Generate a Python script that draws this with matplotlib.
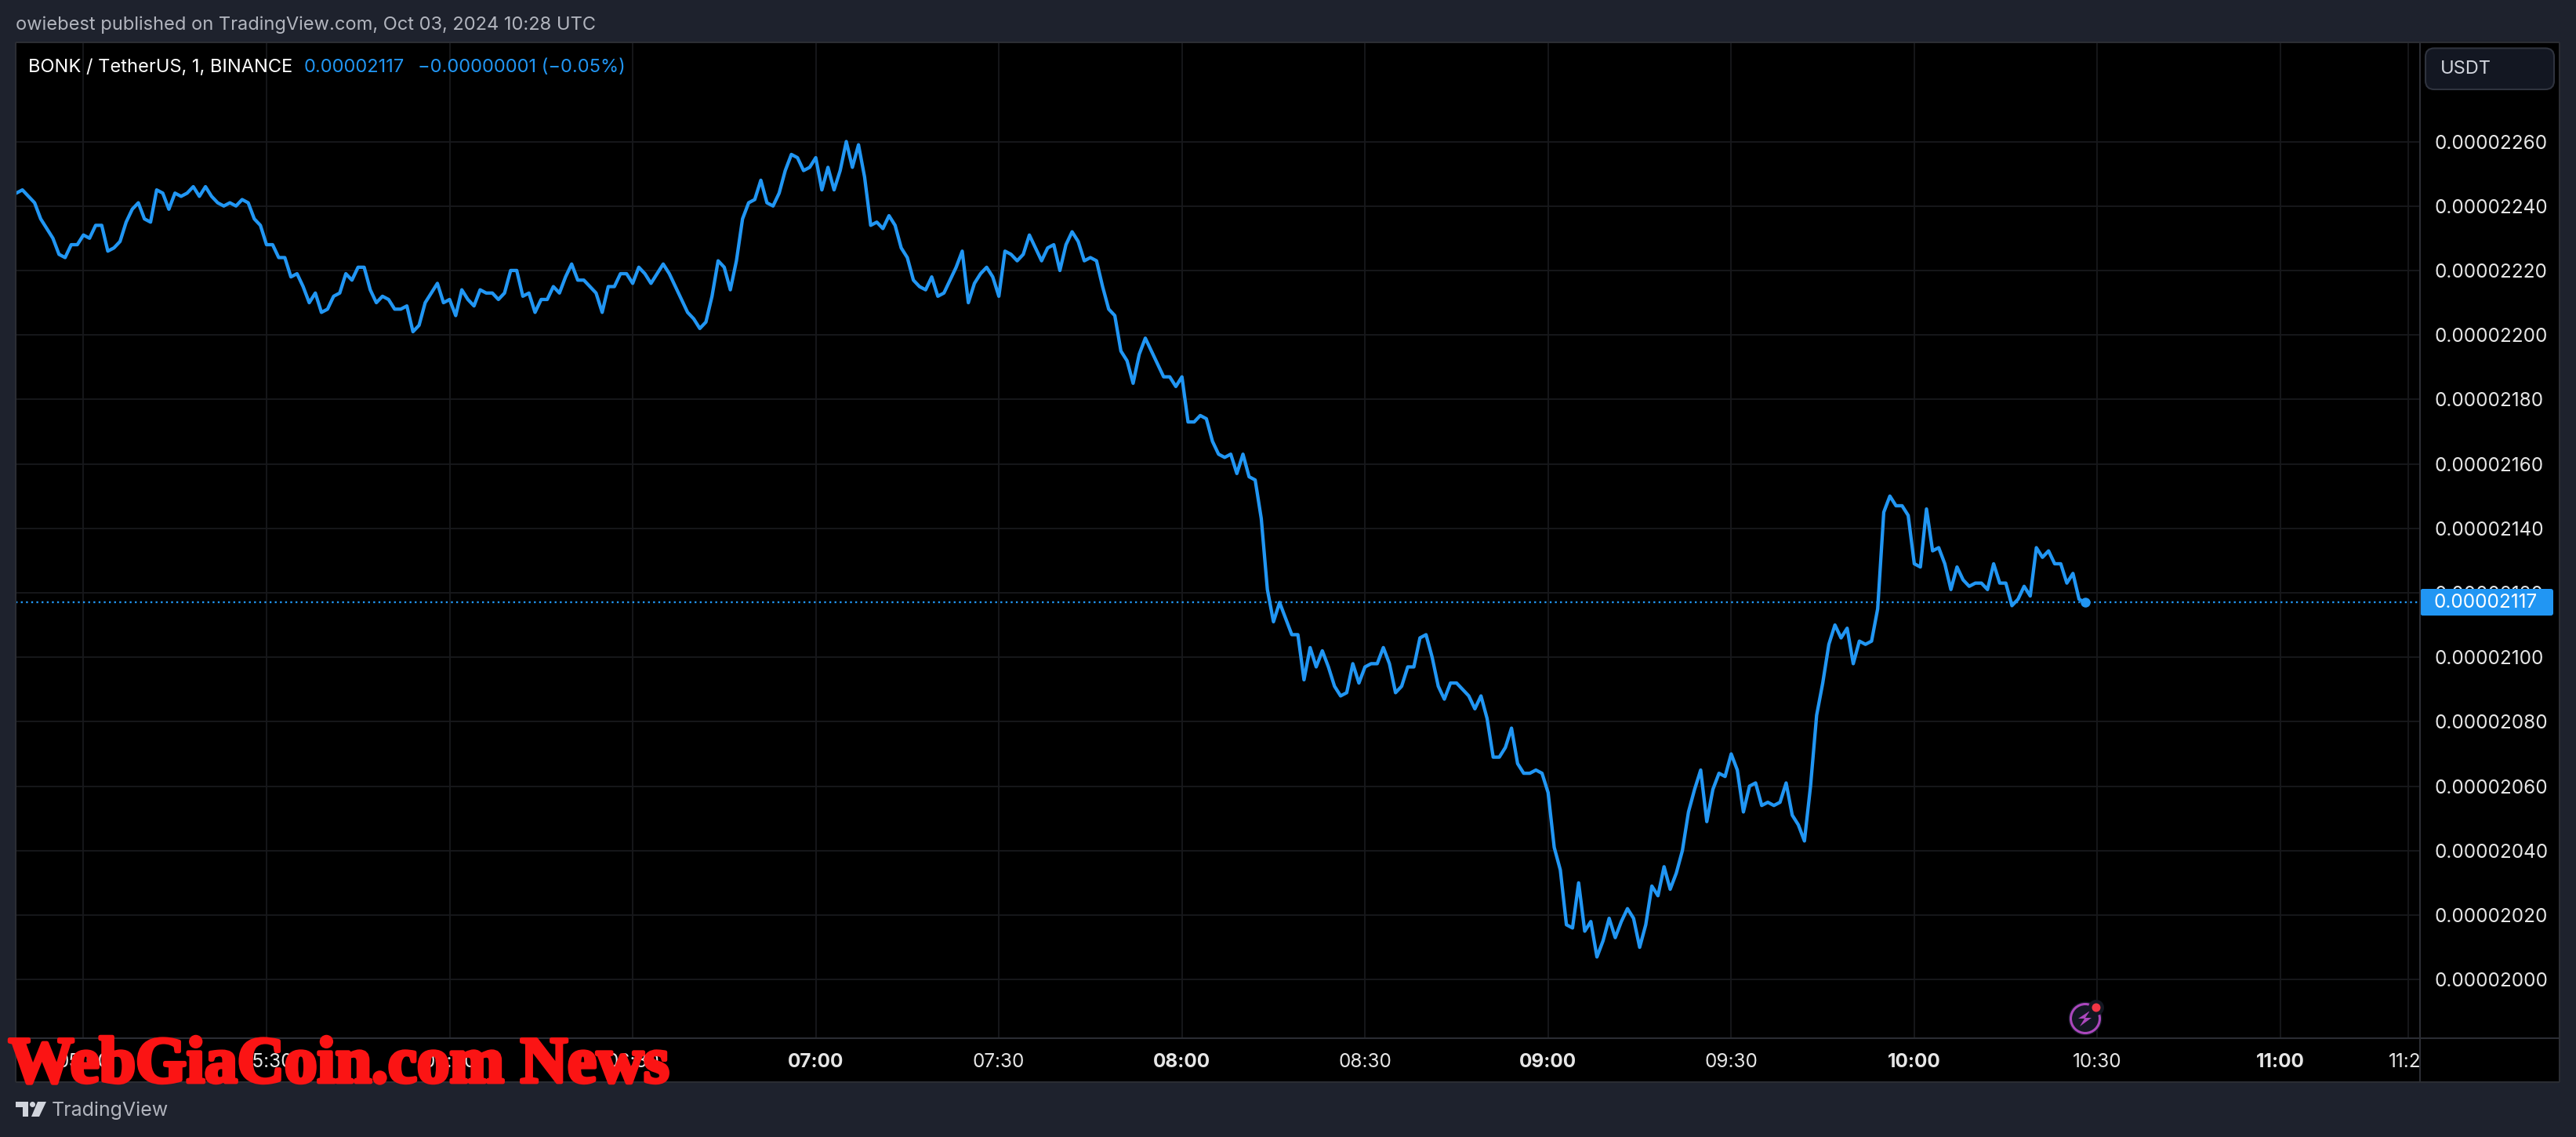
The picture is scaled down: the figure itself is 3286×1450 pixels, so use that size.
#/usr/bin/env python

import matplotlib
matplotlib.use('Agg')
import matplotlib.pyplot as plt
import matplotlib.patheffects as pe
from matplotlib.patches import Circle, FancyBboxPatch, Polygon, Rectangle
from matplotlib.transforms import Bbox

plt.rcParams['font.family'] = ['Inter', 'DejaVu Sans']

# closes in units of 1e-8 USDT, one per minute from 04:49
first_minute = 4 * 60 + 49
closes = [
    2244, 2245, 2243, 2241, 2236, 2233, 2230, 2225, 2224, 2228, 2228, 2231, 2230, 2234, 2234, 2226,
    2227, 2229, 2235, 2239, 2241, 2236, 2235, 2245, 2244, 2239, 2244, 2243, 2244, 2246, 2243, 2246,
    2243, 2241, 2240, 2241, 2240, 2242, 2241, 2236, 2234, 2228, 2228, 2224, 2224, 2218, 2219, 2215,
    2210, 2213, 2207, 2208, 2212, 2213, 2219, 2217, 2221, 2221, 2214, 2210, 2212, 2211, 2208, 2208,
    2209, 2201, 2203, 2210, 2213, 2216, 2210, 2211, 2206, 2214, 2211, 2209, 2214, 2213, 2213, 2211,
    2213, 2220, 2220, 2212, 2213, 2207, 2211, 2211, 2215, 2213, 2218, 2222, 2217, 2217, 2215, 2213,
    2207, 2215, 2215, 2219, 2219, 2216, 2221, 2219, 2216, 2219, 2222, 2219, 2215, 2211, 2207, 2205,
    2202, 2204, 2212, 2223, 2221, 2214, 2223, 2236, 2241, 2242, 2248, 2241, 2240, 2244, 2251, 2256,
    2255, 2251, 2252, 2255, 2245, 2252, 2245, 2251, 2260, 2252, 2259, 2249, 2234, 2235, 2233, 2237,
    2234, 2227, 2224, 2217, 2215, 2214, 2218, 2212, 2213, 2217, 2221, 2226, 2210, 2216, 2219, 2221,
    2218, 2212, 2226, 2225, 2223, 2225, 2231, 2227, 2223, 2227, 2228, 2220, 2228, 2232, 2229, 2223,
    2224, 2223, 2215, 2208, 2206, 2195, 2192, 2185, 2194, 2199, 2195, 2191, 2187, 2187, 2184, 2187,
    2173, 2173, 2175, 2174, 2167, 2163, 2162, 2163, 2157, 2163, 2156, 2155, 2143, 2121, 2111, 2117,
    2112, 2107, 2107, 2093, 2103, 2097, 2102, 2097, 2091, 2088, 2089, 2098, 2092, 2097, 2098, 2098,
    2103, 2098, 2089, 2091, 2097, 2097, 2106, 2107, 2100, 2091, 2087, 2092, 2092, 2090, 2088, 2084,
    2088, 2081, 2069, 2069, 2072, 2078, 2067, 2064, 2064, 2065, 2064, 2058, 2041, 2034, 2017, 2016,
    2030, 2015, 2018, 2007, 2012, 2019, 2013, 2018, 2022, 2019, 2010, 2017, 2029, 2026, 2035, 2028,
    2033, 2040, 2052, 2059, 2065, 2049, 2059, 2064, 2063, 2070, 2065, 2052, 2060, 2061, 2054, 2055,
    2054, 2055, 2061, 2051, 2048, 2043, 2060, 2082, 2092, 2104, 2110, 2106, 2109, 2098, 2105, 2104,
    2105, 2115, 2145, 2150, 2147, 2147, 2144, 2129, 2128, 2146, 2133, 2134, 2129, 2121, 2128, 2124,
    2122, 2123, 2123, 2121, 2129, 2123, 2123, 2116, 2118, 2122, 2119, 2134, 2131, 2133, 2129, 2129,
    2123, 2126, 2118, 2117,
]
price_ticks = [2000, 2020, 2040, 2060, 2080, 2100, 2120, 2140, 2160, 2180, 2200, 2220, 2240, 2260]
time_ticks = [300, 330, 360, 390, 420, 450, 480, 510, 540, 570, 600, 630, 660, 681]
time_labels = ['05:00', '05:30', '06:00', '06:30', '07:00', '07:30', '08:00',
               '08:30', '09:00', '09:30', '10:00', '10:30', '11:00', '11:21']
bold_labels = ['07:00', '08:00', '09:00', '10:00', '11:00']
last_price = 2117

W, H = 3286, 1450
PANEL = '#1e222d'
BLUE = '#2196f3'
GRID = '#18191c'
TEXT = '#e6e6e6'
MUTED = '#b2b5be'

# plot area in pixels
left, right, top, bottom = 20, 3086.5, 53.5, 1324

fig = plt.figure(figsize=(W / 100, H / 100), dpi=100, facecolor=PANEL)

# black pane behind the plot and both scales
fig.add_artist(Rectangle((20 / W, 1 - 1380 / H), (3265 - 20) / W, (1380 - 53.5) / H,
                         transform=fig.transFigure, facecolor='black', edgecolor='none', zorder=-1))

ax = fig.add_axes([left / W, 1 - bottom / H, (right - left) / W, (bottom - top) / H])
ax.set_facecolor('black')
minutes = [first_minute + i for i in range(len(closes))]
ax.plot(minutes, closes, color=BLUE, lw=3.1, solid_joinstyle='round', zorder=3)
ax.axhline(last_price, color=BLUE, lw=1.7, ls=(0, (1, 1.8)), zorder=2)
ax.plot(minutes[-1], closes[-1], 'o', color=BLUE, ms=9, mew=0, zorder=4)

ax.set_xlim(288.9, 682.8)
ax.set_ylim(1981.8, 2290.9)

ax.set_yticks(price_ticks)
ax.set_yticklabels([f'{p * 1e-8:.8f}' for p in price_ticks])
ax.yaxis.tick_right()
ax.tick_params(axis='y', length=0, pad=13.5, labelsize=17.5, labelcolor=TEXT)

ax.set_xticks(time_ticks)
ax.set_xticklabels(time_labels)
ax.tick_params(axis='x', length=0, pad=13.5, labelsize=17.5, labelcolor=TEXT)
clip = Bbox.from_extents(0, 0, right, H)
for label in ax.get_xticklabels():
    label.set_clip_on(True)
    label.set_clip_box(clip)
    if label.get_text() in bold_labels:
        label.set_fontweight('bold')

ax.grid(True, color=GRID, lw=1.3, zorder=0)
ax.set_axisbelow(True)
for spine in ax.spines.values():
    spine.set_visible(False)

# overlay in pixel coordinates for the chrome around the chart
ov = fig.add_axes([0, 0, 1, 1], facecolor='none')
ov.set_xlim(0, W)
ov.set_ylim(H, 0)
ov.axis('off')

for xs, ys in [((20, 3265), (53.5, 53.5)), ((20, 3265), (1324, 1324)), ((20, 3265), (1380, 1380)),
               ((20, 20), (53.5, 1380)), ((3265, 3265), (53.5, 1380)), ((3086.5, 3086.5), (53.5, 1380))]:
    ov.plot(xs, ys, color='#2b2d33', lw=1.5, solid_capstyle='butt')

# header and legend
ov.text(20, 32, 'owiebest published on TradingView.com, Oct 03, 2024 10:28 UTC',
        color=MUTED, fontsize=17, va='center')
ov.text(36, 86, 'BONK / TetherUS, 1, BINANCE', color='white', fontsize=17, va='center')
ov.text(388, 86, '0.00002117', color=BLUE, fontsize=17, va='center')
ov.text(533, 86, '\u22120.00000001 (\u22120.05%)', color=BLUE, fontsize=17, va='center')

# currency box
ov.add_patch(FancyBboxPatch((3094, 61.5), 164, 52.5, boxstyle='round,pad=0,rounding_size=11',
                            facecolor='#131722', edgecolor='#2f333e', lw=1.5))
ov.text(3113, 88, 'USDT', color='#d1d4dc', fontsize=17, va='center')

# last price tag
ov.add_patch(FancyBboxPatch((3087.5, 751), 169.5, 34, boxstyle='round,pad=0,rounding_size=3',
                            facecolor=BLUE, edgecolor='none'))
ov.text(3105, 768, f'{last_price * 1e-8:.8f}', color='white', fontsize=17.5, va='center')

# lightning badge
ov.add_patch(Circle((2660, 1299), 21.5, facecolor='#131722', edgecolor='none'))
ov.add_patch(Circle((2660, 1299), 18.5, facecolor='none', edgecolor='#ab47bc', lw=2.2))
ov.add_patch(Polygon([(2666, 1289), (2651, 1299), (2659, 1299), (2653, 1309), (2668, 1298), (2660, 1298)],
                     facecolor='#ab47bc', edgecolor='none'))
ov.add_patch(Circle((2674, 1285), 10, facecolor='#131722', edgecolor='none'))
ov.add_patch(Circle((2674, 1285), 5.5, facecolor='#f23645', edgecolor='none'))

# TradingView logo
LOGO = '#d1d4dc'
ov.add_patch(Polygon([(20, 1405), (36, 1405), (36, 1424), (29, 1424), (29, 1412), (20, 1412)],
                     facecolor=LOGO, edgecolor='none'))
ov.add_patch(Circle((41.5, 1408.5), 3.5, facecolor=LOGO, edgecolor='none'))
ov.add_patch(Polygon([(48, 1405), (59, 1405), (50, 1424), (40, 1424)], facecolor=LOGO, edgecolor='none'))
ov.text(66, 1416, 'TradingView', color=MUTED, fontsize=18, va='center')

# red site watermark over the time scale
ov.text(11, 1380, 'WebGiaCoin.com News', color='#fb1414', family='Liberation Serif',
        weight='bold', fontsize=60, va='baseline', zorder=10,
        path_effects=[pe.withStroke(linewidth=3.5, foreground='#fb1414')])

fig.savefig('out.png', dpi=100, facecolor=fig.get_facecolor())
